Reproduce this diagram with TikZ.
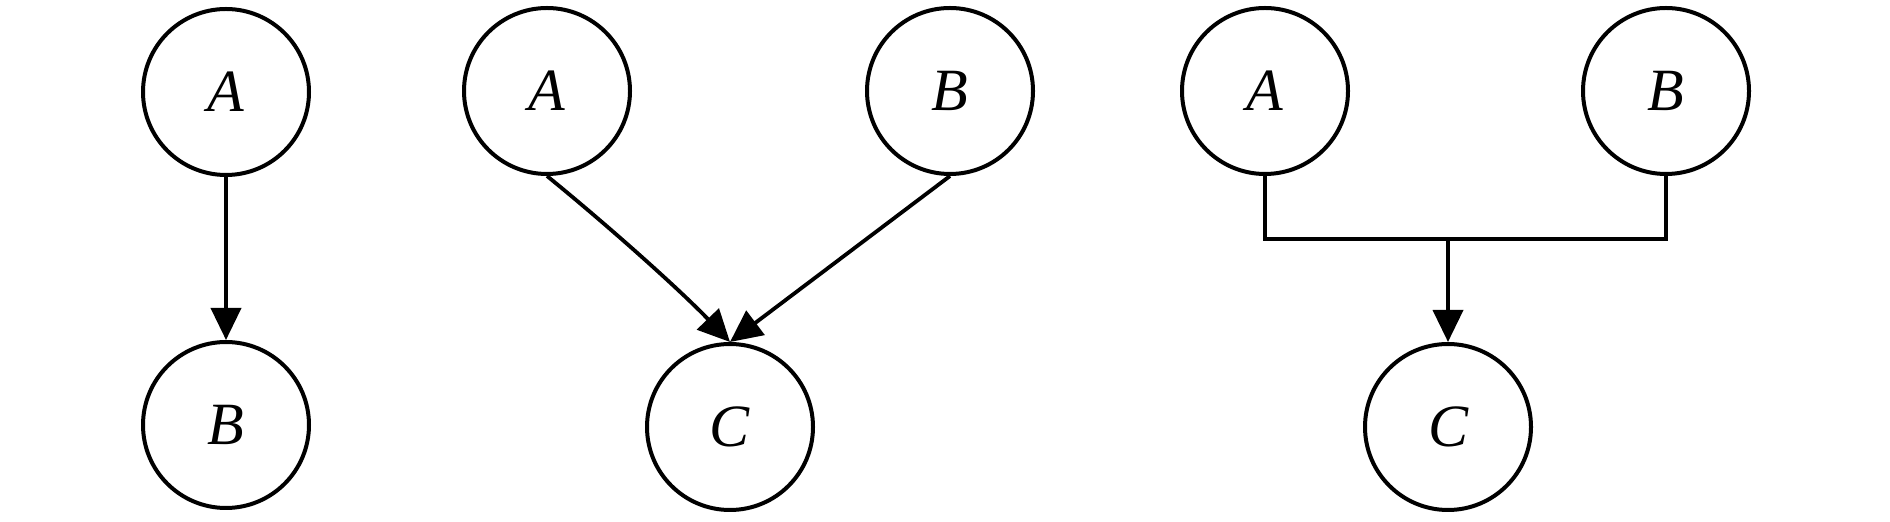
\documentclass[tikz,border=0pt]{standalone}
\usepackage{fontspec}
\setmainfont{Liberation Serif}
\usetikzlibrary{arrows.meta}
\begin{document}
\begin{tikzpicture}[x=0.5pt,y=-0.5pt,
  vnode/.style={circle,draw,line width=2pt,minimum size=83pt,inner sep=0pt,
    font=\fontsize{30}{36}\selectfont\itshape},
  link/.style={line width=1.9pt},
  arr/.style={link,-{Triangle[length=16pt,width=15pt]}}]
\useasboundingbox (0,0) rectangle (1890,522);
% left
\node[vnode] (lA) at (226,92) {A};
\node[vnode] (lB) at (226,425) {B};
\draw[arr] (lA.south) -- (lB.north);
% middle
\node[vnode] (mA) at (547,91) {A};
\node[vnode] (mB) at (950,91) {B};
\node[vnode] (mC) at (730,427) {C};
\draw[arr] (mA.south) .. controls (606,224) and (678,288) .. (mC.north);
\draw[arr] (mB.south) -- (mC.north);
% right
\node[vnode] (rA) at (1265,91) {A};
\node[vnode] (rB) at (1666,91) {B};
\node[vnode] (rC) at (1448,427) {C};
\coordinate (j) at (1448,239);
\draw[link] (rA.south) |- (j) -| (rB.south);
\draw[arr] (j) -- (rC.north);
\end{tikzpicture}
\end{document}
